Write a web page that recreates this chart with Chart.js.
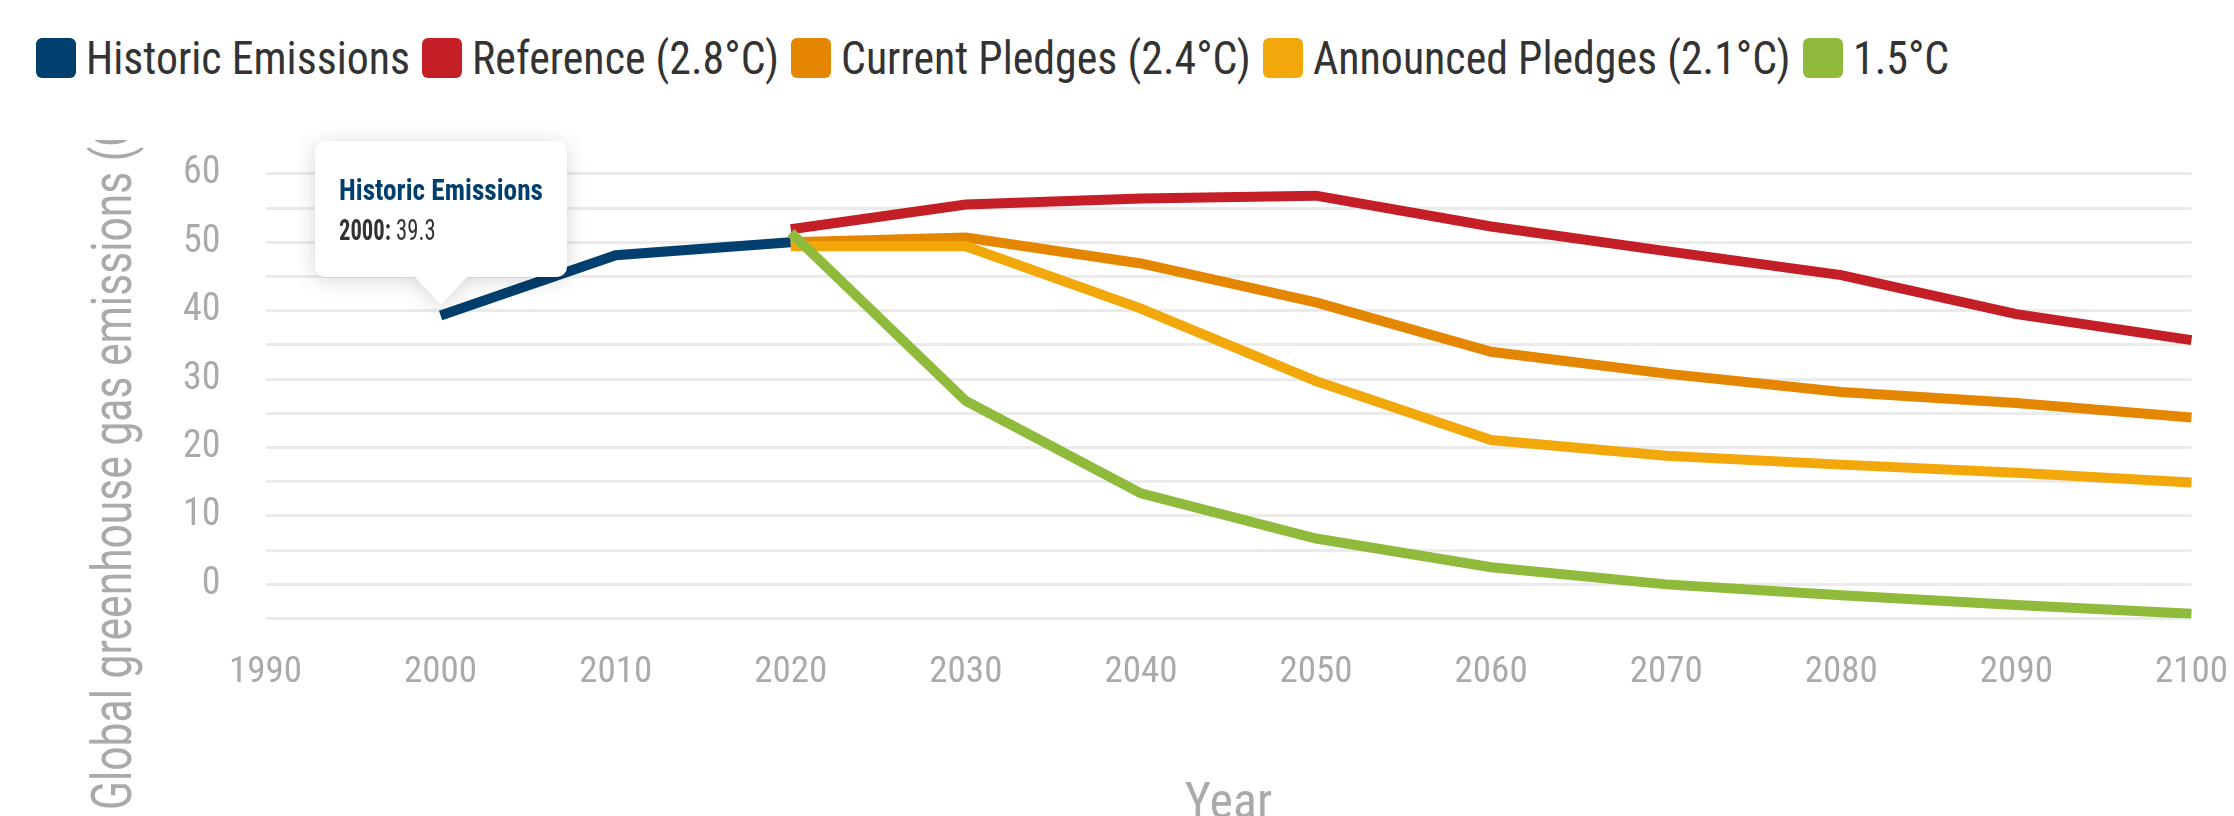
<!DOCTYPE html>
<html>
<head>
<meta charset="utf-8">
<script src="https://cdn.jsdelivr.net/npm/chart.js@4.4.1/dist/chart.umd.min.js"></script>
<style>
  html, body { margin: 0; padding: 0; background: #fff; width: 2234px; height: 816px; overflow: hidden; }
  body { position: relative; font-family: "Roboto Condensed", Roboto, sans-serif; }
  #legend { position: absolute; left: 36px; top: 38px; display: flex; align-items: center; gap: 12px;
            font-size: 47px; line-height: 40px; color: #333; white-space: nowrap; }
  #legend .item { display: flex; align-items: center; gap: 10px; }
  #legend .swatch { width: 40px; height: 40px; border-radius: 6px; flex: none; }
  #legend .text { display: inline-block; transform-origin: left center; }
  #wrap { position: absolute; left: 0; top: 106px; width: 2252px; height: 729px; }
  #tip { position: absolute; pointer-events: none; opacity: 0; transform: translate(-50%, -100%);
         filter: drop-shadow(0 3px 10px rgba(0,0,0,0.16)); }
  #tip .box { width: 252px; height: 136px; box-sizing: border-box; padding: 31px 0 0 24px;
              background: #fff; border-radius: 10px; }
  #tip .tip-title { font-size: 30px; line-height: 36px; font-weight: bold; color: #003f6e;
                    transform: scaleX(0.91); transform-origin: left center; white-space: nowrap; }
  #tip .tip-body { font-size: 29px; line-height: 34px; margin-top: 5px; color: #333;
                   transform: scaleX(0.78); transform-origin: left center; white-space: nowrap; }
  #tip .caret { width: 0; height: 0; margin: 0 auto; border-left: 26px solid transparent;
                border-right: 26px solid transparent; border-top: 28px solid #fff; }
</style>
</head>
<body>
<div id="legend"></div>
<div id="wrap"><canvas id="chart" width="2252" height="729"></canvas></div>
<div id="tip"><div class="box"><div class="tip-title"></div><div class="tip-body"></div></div><div class="caret"></div></div>
<script>
// Emission pathways, GtCO2e per year
const years = [1990, 2000, 2010, 2020, 2030, 2040, 2050, 2060, 2070, 2080, 2090, 2100];
const historic  = [null, 39.3, 48.1, 50.0, null, null, null, null, null, null, null, null];
const reference = [null, null, null, 51.9, 55.5, 56.4, 56.8, 52.3, 48.7, 45.2, 39.5, 35.7];
const current   = [null, null, null, 50.0, 50.7, 46.9, 41.2, 34.0, 30.8, 28.1, 26.5, 24.4];
const announced = [null, null, null, 49.4, 49.4, 40.3, 29.7, 21.1, 18.8, 17.5, 16.3, 14.9];
const target15  = [null, null, null, 51.4, 26.8, 13.3, 6.7, 2.5, 0.0, -1.6, -3.0, -4.3];

const seriesNames = [
  "Historic Emissions",
  "Reference (2.8°C)",
  "Current Pledges (2.4°C)",
  "Announced Pledges (2.1°C)",
  "1.5°C",
];
const Y_TITLE = "Global greenhouse gas emissions (GtCO2e)";
const X_TITLE = "Year";

const C = {
  blue:   "#003f6e",
  red:    "#c41f26",
  orange: "#e58600",
  gold:   "#f2a80b",
  green:  "#8fba3b",
  grid:   "#ebebeb",
  label:  "#aaaaaa",
};

Chart.defaults.font.family = '"Roboto Condensed", Roboto, sans-serif';

function line(label, data, color, order) {
  return {
    label, data, order,
    borderColor: color,
    backgroundColor: color,
    borderWidth: 10,
    pointRadius: 0,
    pointHoverRadius: 0,
    spanGaps: false,
    tension: 0,
  };
}

// rotated y title, drawn by hand: narrow lettering, cut off at the top like the source
const yTitle = {
  id: "yTitle",
  afterDraw(chart) {
    const { ctx, height } = chart;
    ctx.save();
    ctx.beginPath();
    ctx.rect(0, 34, 240, height);
    ctx.clip();
    ctx.translate(117, 704);
    ctx.rotate(-Math.PI / 2);
    ctx.scale(0.76, 1);
    ctx.font = '56px Roboto, sans-serif';
    ctx.fillStyle = C.label;
    ctx.textAlign = "left";
    ctx.textBaseline = "middle";
    ctx.fillText(Y_TITLE, 0, 0);
    ctx.restore();
  },
};

function renderTip({ chart, tooltip }) {
  const el = document.getElementById("tip");
  if (tooltip.opacity === 0 || !tooltip.dataPoints?.length) { el.style.opacity = 0; return; }
  const dp = tooltip.dataPoints[0];
  el.querySelector(".tip-title").textContent = dp.dataset.label;
  el.querySelector(".tip-body").innerHTML = "<b>" + dp.label + ":</b> " + dp.formattedValue;
  const r = chart.canvas.getBoundingClientRect();
  el.style.left = (r.left + tooltip.caretX) + "px";
  el.style.top = (r.top + tooltip.caretY - 10) + "px";
  el.style.opacity = 1;
}

const ctx = document.getElementById("chart").getContext("2d");
const chart = new Chart(ctx, {
  type: "line",
  data: {
    labels: years,
    datasets: [
      line(seriesNames[0], historic, C.blue, 4),
      line(seriesNames[1], reference, C.red, 3),
      line(seriesNames[2], current, C.orange, 2),
      line(seriesNames[3], announced, C.gold, 1),
      line(seriesNames[4], target15, C.green, 0),
    ],
  },
  options: {
    responsive: false,
    animation: false,
    layout: { padding: { left: 138, right: 0, top: 0, bottom: 0 } },
    plugins: {
      legend: { display: false },
      tooltip: { enabled: false, external: renderTip, position: "nearest" },
    },
    scales: {
      x: {
        offset: false,
        grid: { display: false },
        border: { display: false },
        ticks: { color: C.label, font: { size: 37 }, padding: 24, autoSkip: false, maxRotation: 0 },
        title: { display: true, text: X_TITLE, color: C.label, font: { size: 50 }, padding: { top: 56, bottom: 0 } },
      },
      y: {
        min: -5,
        max: 60,
        grid: { color: C.grid, lineWidth: 3, drawTicks: false },
        border: { display: false },
        ticks: {
          stepSize: 5,
          maxTicksLimit: 20,
          autoSkip: false,
          color: C.label,
          font: { size: 38 },
          padding: 45,
          callback: (v) => (v % 10 === 0 ? v : ""),
        },
      },
    },
  },
  plugins: [yTitle],
});

// HTML legend in dataset order, lettering narrowed to the source width
const legend = document.getElementById("legend");
const texts = [];
chart.data.datasets.forEach((ds) => {
  const item = document.createElement("div");
  item.className = "item";
  const sw = document.createElement("span");
  sw.className = "swatch";
  sw.style.background = ds.borderColor;
  const tx = document.createElement("span");
  tx.className = "text";
  tx.textContent = ds.label;
  item.append(sw, tx);
  legend.appendChild(item);
  texts.push(tx);
});
const NARROW = 0.934;
texts.forEach((tx) => {
  const w = tx.offsetWidth;
  tx.style.transform = "scaleX(" + NARROW + ")";
  tx.style.marginRight = (-(1 - NARROW) * w) + "px";
});

// pinned tooltip on the 2000 historic point
chart.tooltip.setActiveElements([{ datasetIndex: 0, index: 1 }], { x: 0, y: 0 });
chart.draw();
</script>
</body>
</html>
